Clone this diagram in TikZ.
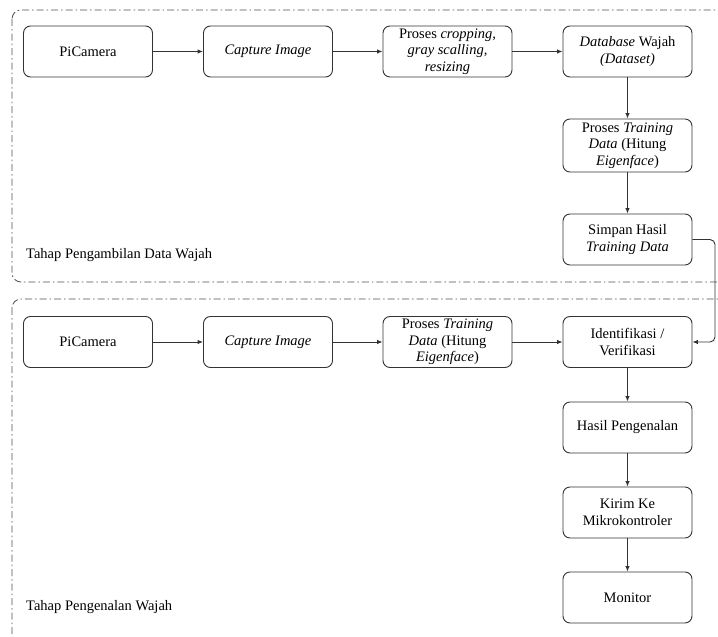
\documentclass[tikz,border=0pt]{standalone}
\usepackage{fontspec}
\setmainfont{Liberation Serif}
\usetikzlibrary{arrows.meta}
\definecolor{boxline}{HTML}{333333}
\definecolor{dashline}{HTML}{505050}
\tikzset{
  procbox/.style={draw=boxline, line width=0.9pt, rounded corners=7pt, minimum width=129pt, minimum height=51pt, align=center, inner sep=2pt, font=\fontsize{14.5pt}{16.5pt}\selectfont, text=black},
  flow/.style={draw=boxline, line width=0.9pt, -{Latex[length=5.5pt,width=4.5pt]}},
  stage/.style={draw=dashline, line width=0.85pt, rounded corners=9pt, dash pattern=on 7pt off 3pt on 1.5pt off 3pt},
  stagelabel/.style={anchor=west, inner sep=0pt, font=\fontsize{14.5pt}{16.5pt}\selectfont, text=black}
}
\begin{document}
\begin{tikzpicture}[x=1pt,y=-1pt]
\useasboundingbox (0,0) rectangle (718,637);
\clip (0,0) rectangle (718,637);
% stage frames
\draw[stage] (12,10) rectangle (745,282);
\draw[stage] (12,299) rectangle (745,645);
\node[stagelabel] (lab1) at (26,255) {Tahap Pengambilan Data Wajah};
\node[stagelabel] (lab2) at (26,607) {Tahap Pengenalan Wajah};
% row 1
\node[procbox] (cam1) at (88,51.5) {PiCamera};
\node[procbox] (cap1) at (268,51.5) {\textit{Capture Image}};
\node[procbox] (crop) at (447.5,51.5) {Proses \textit{cropping,}\\\textit{gray scalling,}\\\textit{resizing}};
\node[procbox] (db) at (627.5,51.5) {\textit{Database} Wajah\\\textit{(Dataset)}};
\node[procbox, minimum height=53pt] (train1) at (627.5,145.5) {Proses \textit{Training}\\\textit{Data} (Hitung\\\textit{Eigenface})};
\node[procbox] (save) at (627.5,239.5) {Simpan Hasil\\\textit{Training Data}};
% row 2
\node[procbox] (cam2) at (88,342) {PiCamera};
\node[procbox] (cap2) at (268,342) {\textit{Capture Image}};
\node[procbox] (train2) at (447.5,342) {Proses \textit{Training}\\\textit{Data} (Hitung\\\textit{Eigenface})};
\node[procbox] (ident) at (627.5,342) {Identifikasi /\\Verifikasi};
\node[procbox] (hasil) at (627.5,427.5) {Hasil Pengenalan};
\node[procbox] (kirim) at (627.5,512.5) {Kirim Ke\\Mikrokontroler};
\node[procbox] (mon) at (627.5,597.5) {Monitor};
\coordinate (fb1) at (715,239.5);
\coordinate (fb2) at (715,342);
% connectors
\draw[flow] (cam1) -- (cap1);
\draw[flow] (cap1) -- (crop);
\draw[flow] (crop) -- (db);
\draw[flow] (db) -- (train1);
\draw[flow] (train1) -- (save);
\draw[flow, rounded corners=5pt] (save.east) -- (fb1) -- (fb2) -- (ident.east);
\draw[flow] (cam2) -- (cap2);
\draw[flow] (cap2) -- (train2);
\draw[flow] (train2) -- (ident);
\draw[flow] (ident) -- (hasil);
\draw[flow] (hasil) -- (kirim);
\draw[flow] (kirim) -- (mon);
\end{tikzpicture}
\end{document}
